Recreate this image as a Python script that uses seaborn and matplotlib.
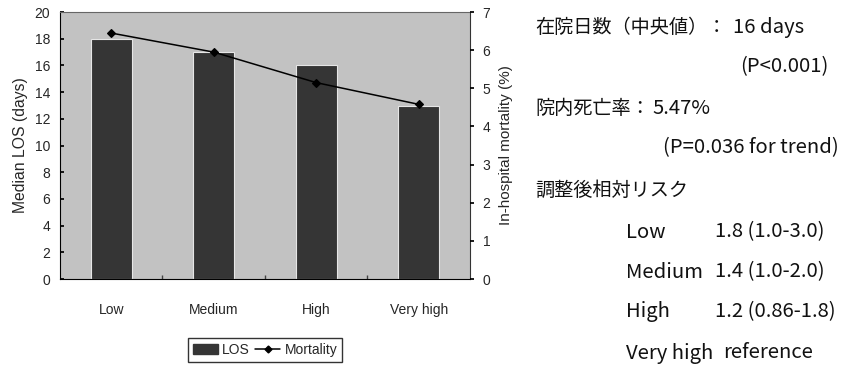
import matplotlib
matplotlib.use("Agg")
import matplotlib.pyplot as plt
import seaborn as sns
import pandas as pd
from matplotlib.patches import Patch
from matplotlib.lines import Line2D

# Hospital volume groups
categories = ["Low", "Medium", "High", "Very high"]
los_days = [18, 17, 16, 13]               # median length of stay (days)
mortality_pct = [6.45, 5.95, 5.15, 4.58]  # in-hospital mortality (%)

left_ticks = list(range(0, 21, 2))
right_ticks = list(range(0, 8))

# Adjusted relative risk by group
rr_groups = ["Low", "Medium", "High", "Very high"]
rr_values = ["1.8 (1.0-3.0)", "1.4 (1.0-2.0)", "1.2 (0.86-1.8)", "reference"]

df = pd.DataFrame({"group": categories, "los": los_days, "mort": mortality_pct})

sns.set_theme(style="white")
plt.rcParams["font.family"] = ["Liberation Sans", "DejaVu Sans"]

fig = plt.figure(figsize=(8.47, 3.66), dpi=100)
ax = fig.add_axes([0.0708, 0.2377, 0.4841, 0.7293])
ax.set_facecolor("#c2c2c2")

sns.barplot(data=df, x="group", y="los", color="#353535", width=0.4,
            saturation=1, edgecolor="#e6e6e6", linewidth=0.8, ax=ax)
ax.set_xlim(-0.5, 3.5)
ax.set_ylim(0, 20)
ax.set_yticks(left_ticks)
ax.set_ylabel("Median LOS (days)", fontsize=11.3, labelpad=5)
ax.set_xlabel("")
ax.tick_params(axis="y", labelsize=10, length=3, direction="in", color="black", left=True, pad=7)
ax.tick_params(axis="x", labelsize=10, length=0, pad=17)
ax.set_xticks([0.5, 1.5, 2.5], minor=True)
ax.tick_params(axis="x", which="minor", length=3, direction="in", bottom=True, color="#444")
for s in ax.spines.values():
    s.set_linewidth(0.8)
ax.spines["left"].set_color("black")
ax.spines["bottom"].set_color("black")
ax.spines["top"].set_color("#666666")
ax.spines["top"].set_linestyle((0, (1, 1)))
ax.spines["right"].set_color("#333333")
ax.spines["right"].set_linestyle((0, (1, 1)))

ax2 = ax.twinx()
sns.pointplot(data=df, x="group", y="mort", color="black", markers="D",
              markersize=4, linewidth=1.1, ax=ax2)
ax2.set_xlim(-0.5, 3.5)
ax2.set_ylim(0, 7)
ax2.set_yticks(right_ticks)
ax2.set_ylabel("In-hospital mortality (%)", fontsize=11, labelpad=6)
ax2.tick_params(axis="y", labelsize=10, length=3, direction="out", right=True, color="black", pad=6)
for s in ax2.spines.values():
    s.set_visible(False)

handles = [Patch(facecolor="#353535", edgecolor="#353535"),
           Line2D([0], [0], color="black", marker="D", markersize=3.5, linewidth=1.1)]
fig.legend(handles, ["LOS", "Mortality"], loc="center", bbox_to_anchor=(265 / 847, 1 - 350 / 366),
           ncol=2, fontsize=10, frameon=True, fancybox=False, edgecolor="black",
           handlelength=1.8, handletextpad=0.3, columnspacing=0.4, borderpad=0.35)

# Summary text panel
jp = ["Noto Sans CJK JP", "DejaVu Sans"]
fs_cjk = 13.8
fs_lat = 14.6

def t(x, y, s, size):
    fig.text(x / 847, 1 - y / 366, s, fontsize=size, family=jp, va="center", ha="left", color="#111")

t(535, 27, "在院日数（中央値）：", fs_cjk)
t(733, 27, "16 days", fs_lat)
t(740, 67, "(P<0.001)", fs_lat)
t(535, 108, "院内死亡率：", fs_cjk)
t(652, 108, "5.47%", fs_lat)
t(663, 148, "(P=0.036 for trend)", fs_lat)
t(535, 190, "調整後相対リスク", fs_cjk)
row_y = [232, 272, 312, 353]
for g, v, y in zip(rr_groups, rr_values, row_y):
    t(626, y, g, fs_lat)
    t(715 if v != "reference" else 723, y, v, fs_lat)

fig.savefig("out.png", dpi=100)
